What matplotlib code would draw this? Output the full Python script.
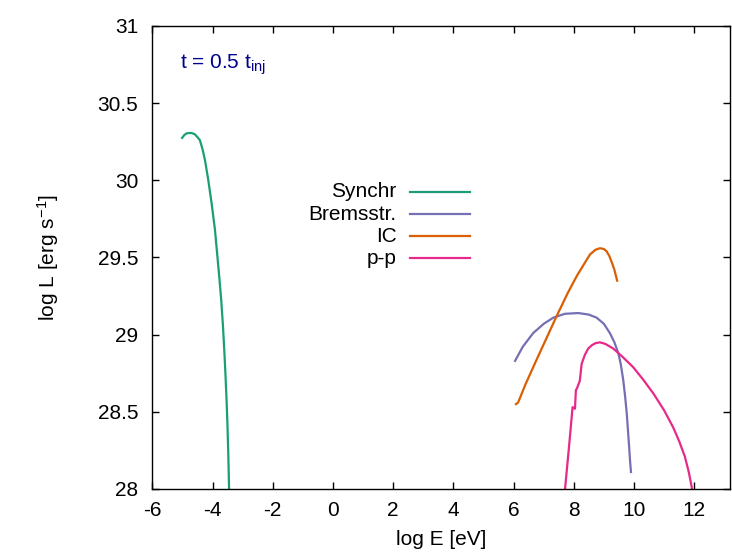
import matplotlib
matplotlib.use("Agg")
import matplotlib.pyplot as plt
from matplotlib.lines import Line2D
from matplotlib.ticker import FuncFormatter

plt.rcParams['font.family'] = ['Liberation Sans', 'DejaVu Sans']
plt.rcParams['mathtext.fontset'] = 'custom'
plt.rcParams['mathtext.rm'] = 'Liberation Sans'
plt.rcParams['mathtext.it'] = 'Liberation Sans'
plt.rcParams['axes.unicode_minus'] = False

# curves: log E [eV], log L [erg/s]
synchr_x = [-5.01, -4.93, -4.85, -4.71, -4.60, -4.50, -4.42, -4.33, -4.25, -4.14, -4.03,
            -3.92, -3.84, -3.77, -3.71, -3.655, -3.61, -3.57, -3.535, -3.505, -3.48, -3.45]
synchr_y = [30.275, 30.295, 30.305, 30.307, 30.30, 30.28, 30.26, 30.20, 30.13, 30.0, 29.85,
            29.68, 29.51, 29.36, 29.22, 29.06, 28.90, 28.74, 28.58, 28.42, 28.25, 28.0]

brems_x = [6.05, 6.30, 6.65, 7.00, 7.32, 7.70, 8.15, 8.50, 8.76, 9.00, 9.20, 9.35,
           9.48, 9.56, 9.64, 9.70, 9.76, 9.80, 9.84, 9.87, 9.90]
brems_y = [28.83, 28.92, 29.01, 29.07, 29.11, 29.135, 29.14, 29.13, 29.11, 29.07, 29.01, 28.95,
           28.88, 28.81, 28.71, 28.61, 28.49, 28.38, 28.27, 28.18, 28.11]

ic_x = [6.08, 6.15, 6.40, 6.77, 7.10, 7.43, 7.80, 8.10, 8.35, 8.54, 8.72, 8.87, 9.00,
        9.09, 9.18, 9.26, 9.35, 9.44]
ic_y = [28.55, 28.56, 28.68, 28.84, 28.98, 29.12, 29.27, 29.38, 29.46, 29.52, 29.55, 29.56, 29.555,
        29.54, 29.51, 29.47, 29.42, 29.35]

pp_x = [7.71, 7.84, 7.96, 8.04, 8.07, 8.10, 8.18, 8.20, 8.26, 8.37, 8.48, 8.59, 8.72, 8.87,
        9.05, 9.31, 9.60, 9.97, 10.30, 10.64, 11.00, 11.30, 11.50, 11.69, 11.82, 11.92, 11.95]
pp_y = [28.0, 28.27, 28.53, 28.52, 28.64, 28.65, 28.69, 28.70, 28.81, 28.87, 28.91, 28.93, 28.945, 28.95,
        28.94, 28.91, 28.86, 28.79, 28.71, 28.62, 28.51, 28.40, 28.31, 28.21, 28.11, 28.01, 27.95]

labels = ['Synchr', 'Bremsstr.', 'IC', 'p-p']
colors = ['#1b9e77', '#7570b3', '#d95f02', '#e7298a']
xticks = [-6, -4, -2, 0, 2, 4, 6, 8, 10, 12]
yticks = [28, 28.5, 29, 29.5, 30, 30.5, 31]

fs = 15

fig = plt.figure(figsize=(7.32, 5.6), dpi=100)
ax = fig.add_axes([0.2081, 0.1268, 0.7896, 0.8268])

series = [(synchr_x, synchr_y), (brems_x, brems_y), (ic_x, ic_y), (pp_x, pp_y)]
for (xs, ys), c in zip(series, colors):
    ax.plot(xs, ys, color=c, lw=1.6, solid_joinstyle='round')

ax.set_xlim(-6, 13.2)
ax.set_ylim(28, 31)
ax.set_xticks(xticks)
ax.set_yticks(yticks)
ax.yaxis.set_major_formatter(FuncFormatter(lambda v, p: '%g' % v))
ax.tick_params(direction='in', length=5, width=1, top=True, right=True,
               labelsize=fs, colors='black')
ax.tick_params(axis='x', pad=9)
ax.tick_params(axis='y', pad=10)
for s in ax.spines.values():
    s.set_linewidth(1)

ax.set_xlabel('log E [eV]', fontsize=fs)
ax.set_ylabel(r'log L [erg s$^{\mathregular{-1}}$]', fontsize=fs)
ax.xaxis.set_label_coords(0.5, -0.088)
ax.yaxis.set_label_coords(-0.158, 0.5)

ax.text(0.048, 0.907, r't = 0.5 t$_{\mathregular{inj}}$', transform=ax.transAxes,
        fontsize=fs, color='#00008b', va='baseline')

# gnuplot-style key: right aligned text, sample line to the right
for i, (lab, c) in enumerate(zip(labels, colors)):
    yk = 0.6415 - i * 0.0477
    ax.text(0.4228, yk, lab, transform=ax.transAxes, ha='right', va='center', fontsize=fs)
    ax.add_line(Line2D([0.4459, 0.5497], [yk, yk], transform=ax.transAxes, color=c, lw=1.6))

fig.savefig('out.png', dpi=100)
